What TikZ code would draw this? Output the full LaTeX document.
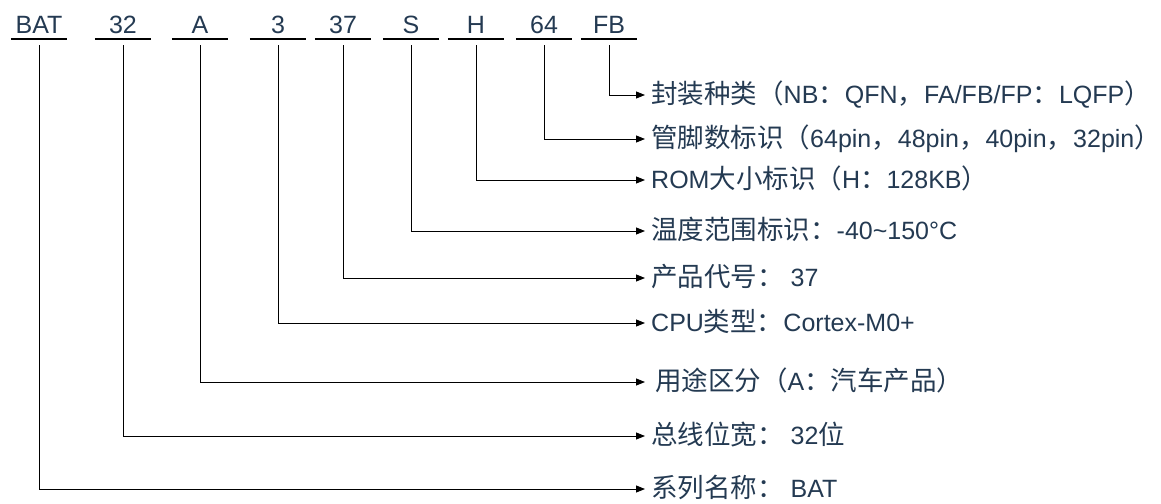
\documentclass[tikz,border=0pt]{standalone}
\usepackage{fontspec}
\setmainfont{Liberation Sans}
\newfontfamily\cjk[Scale=1.06]{Noto Sans CJK SC}
\usetikzlibrary{arrows.meta}

\definecolor{codetext}{HTML}{243A52}
\newcommand{\zh}[1]{{\cjk #1}}

\begin{document}
\begin{tikzpicture}[
    x=1pt, y=-1pt,
    code/.style={
        anchor=base,
        inner sep=0pt,
        text depth=5.7pt,
        minimum width=56pt,
        text=codetext,
        font=\fontsize{25}{30}\selectfont
    },
    desc/.style={
        anchor=west,
        inner xsep=6pt,
        inner ysep=0pt,
        text height=18.5pt,
        text depth=1pt,
        text=codetext,
        font=\fontsize{25}{30}\selectfont
    },
    underline/.style={draw, line width=2pt},
    line/.style={draw, line width=0.9pt, -{Triangle[length=9pt,width=7pt]}, shorten <=6pt}
]

% Canvas
\path [fill=white, use as bounding box] (0,0) rectangle (1161,503);

% Part number fields
\node [code] (bat) at (39,33.3) {BAT};
\node [code] (bus) at (123,33.3) {32};
\node [code] (use) at (200,33.3) {A};
\node [code] (cpu) at (278,33.3) {3};
\node [code] (prod) at (343,33.3) {37};
\node [code] (temp) at (411,33.3) {S};
\node [code] (rom) at (476,33.3) {H};
\node [code] (pins) at (544,33.3) {64};
\node [code] (pkg) at (609,33.3) {FB};

% Underlines
\draw [underline] (bat.south west) -- (bat.south east);
\draw [underline] (bus.south west) -- (bus.south east);
\draw [underline] (use.south west) -- (use.south east);
\draw [underline] (cpu.south west) -- (cpu.south east);
\draw [underline] (prod.south west) -- (prod.south east);
\draw [underline] (temp.south west) -- (temp.south east);
\draw [underline] (rom.south west) -- (rom.south east);
\draw [underline] (pins.south west) -- (pins.south east);
\draw [underline] (pkg.south west) -- (pkg.south east);

% Descriptions
\node [desc] (pkgdesc) at (645,95) {\zh{封装种类（}NB\zh{：}QFN\zh{，}FA/FB/FP\zh{：}LQFP\zh{）}};
\node [desc] (pinsdesc) at (645,139) {\zh{管脚数标识（}64pin\zh{，}48pin\zh{，}40pin\zh{，}32pin\zh{）}};
\node [desc] (romdesc) at (645,180) {ROM\zh{大小标识（}H\zh{：}128KB\zh{）}};
\node [desc] (tempdesc) at (645,231) {\zh{温度范围标识：}-40\textasciitilde150°C};
\node [desc] (proddesc) at (645,278) {\zh{产品代号：} 37};
\node [desc] (cpudesc) at (645,323) {CPU\zh{类型：}Cortex-M0+};
\node [desc] (usedesc) at (645,382) {\hspace{4pt}\zh{用途区分（}A\zh{：汽车产品）}};
\node [desc] (busdesc) at (645,436) {\zh{总线位宽：} 32\zh{位}};
\node [desc] (batdesc) at (645,489) {\zh{系列名称：} BAT};

% Connections
\draw [line] (pkg.south) |- (pkgdesc.west);
\draw [line] (pins.south) |- (pinsdesc.west);
\draw [line] (rom.south) |- (romdesc.west);
\draw [line] (temp.south) |- (tempdesc.west);
\draw [line] (prod.south) |- (proddesc.west);
\draw [line] (cpu.south) |- (cpudesc.west);
\draw [line] (use.south) |- (usedesc.west);
\draw [line] (bus.south) |- (busdesc.west);
\draw [line] (bat.south) |- (batdesc.west);

\end{tikzpicture}
\end{document}
